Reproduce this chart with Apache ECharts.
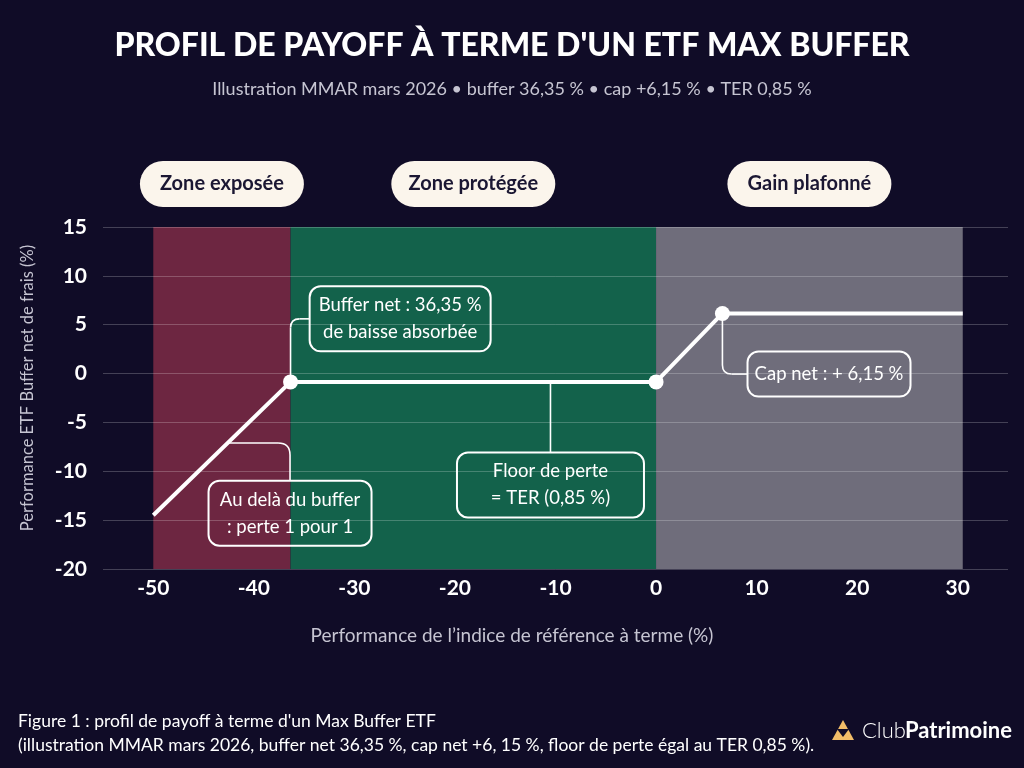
<!DOCTYPE html>
<html>
<head>
<meta charset="utf-8">
<script src="https://cdn.jsdelivr.net/npm/echarts@6/dist/echarts.min.js"></script>
<style>
	html, body { margin: 0; padding: 0; background: #100c27; }
	#main { width: 1024px; height: 768px; }
</style>
</head>
<body>
<div id="main"></div>
<script>
// performance de l'indice (x) et de l'ETF net de frais (y) aux points de rupture
var refPerf = [-50, -36.35, 0, 6.6, 30.5];
var etfPerf = [-14.5, -0.85, -0.85, 6.15, 6.15];
var markedIdx = [1, 2, 3];

// zones de fond
var zoneLabels = ['Zone exposée', 'Zone protégée', 'Gain plafonné'];
var zoneStart = [-50, -36.35, 0];
var zoneEnd = [-36.35, 0, 30.5];
var zoneColors = ['#6d2641', '#13624b', '#6f6d7b'];

var xLabelMin = -50, xLabelMax = 30;

var chart = echarts.init(document.getElementById('main'));

var linePoints = [];
for (var i = 0; i < refPerf.length; i++) {
	linePoints.push([refPerf[i], etfPerf[i]]);
}
var dotPoints = [];
for (var i = 0; i < markedIdx.length; i++) {
	dotPoints.push([refPerf[markedIdx[i]], etfPerf[markedIdx[i]]]);
}
var areas = [];
for (var i = 0; i < zoneLabels.length; i++) {
	areas.push([
		{ xAxis: zoneStart[i], itemStyle: { color: zoneColors[i] } },
		{ xAxis: zoneEnd[i] }
	]);
}

var option = {
	backgroundColor: '#100c27',
	animation: false,
	textStyle: { fontFamily: 'Lato' },
	title: [
		{
			text: "PROFIL DE PAYOFF À TERME D'UN ETF MAX BUFFER",
			left: 'center',
			top: 25,
			textStyle: { color: '#ffffff', fontSize: 32, fontWeight: 900, fontFamily: 'Lato' }
		},
		{
			text: 'Illustration MMAR mars 2026 • buffer 36,35 % • cap +6,15 % • TER 0,85 %',
			left: 'center',
			top: 75,
			textStyle: { color: '#c6c5d2', fontSize: 18, fontWeight: 'normal', fontFamily: 'Lato' }
		}
	],
	grid: { left: 103, right: 16, top: 227, bottom: 199, outerBoundsMode: 'none' },
	xAxis: {
		type: 'value',
		min: -55,
		max: 35,
		interval: 5,
		axisLine: { show: false },
		axisTick: { show: false },
		splitLine: { show: false },
		axisLabel: {
			color: '#ffffff',
			fontSize: 21,
			fontWeight: 'bold',
			margin: 9,
			formatter: function (v) {
				return (v % 10 === 0 && v >= xLabelMin && v <= xLabelMax) ? String(v) : '';
			}
		}
	},
	yAxis: {
		type: 'value',
		min: -20,
		max: 15,
		interval: 5,
		z: 2,
		axisLine: { show: false },
		axisTick: { show: false },
		splitLine: { lineStyle: { color: 'rgba(255,255,255,0.22)', width: 1 } },
		axisLabel: { color: '#ffffff', fontSize: 21, fontWeight: 'bold', margin: 16 }
	},
	series: [
		{
			type: 'line',
			name: 'zones',
			data: [],
			z: 1,
			silent: true,
			markArea: { silent: true, data: areas }
		},
		{
			type: 'line',
			name: 'payoff',
			data: linePoints,
			symbol: 'none',
			z: 3,
			lineStyle: { color: '#ffffff', width: 4 }
		},
		{
			type: 'scatter',
			name: 'points',
			data: dotPoints,
			symbolSize: 15,
			z: 4,
			itemStyle: { color: '#ffffff', opacity: 1 }
		}
	]
};
chart.setOption(option);

// annotations (placées en coordonnées de données)
var callouts = [
	{ text: 'Buffer net : 36,35 %\nde baisse absorbée', anchor: [-36.35, -0.85], box: [-25.45, 5.6], w: 181, h: 65, route: 'vh' },
	{ text: 'Cap net : + 6,15 %', anchor: [6.6, 6.15], box: [17.2, -0.05], w: 163, h: 45, route: 'vh' },
	{ text: 'Au delà du buffer\n: perte 1 pour 1', anchor: [-42.6, -7.1], box: [-36.4, -14.3], w: 163, h: 65, route: 'hv' },
	{ text: 'Floor de perte\n= TER (0,85 %)', anchor: [-10.5, -0.85], box: [-10.5, -11.4], w: 187, h: 65, route: 'v' }
];

function px(p) {
	return chart.convertToPixel({ gridIndex: 0 }, p);
}

var graphics = [];

function seg(x1, y1, x2, y2) {
	graphics.push({
		type: 'line',
		shape: { x1: x1, y1: y1, x2: x2, y2: y2 },
		style: { stroke: '#ffffff', lineWidth: 1.6 },
		z: 9
	});
}
function corner(x1, y1, cx, cy, x2, y2) {
	graphics.push({
		type: 'bezierCurve',
		shape: { x1: x1, y1: y1, cpx1: cx, cpy1: cy, x2: x2, y2: y2 },
		style: { stroke: '#ffffff', lineWidth: 1.6, fill: 'none' },
		z: 9
	});
}

function buildCallout(c) {
	var a = px(c.anchor);
	var b = px(c.box);
	var boxLeft = b[0] - c.w / 2;
	var boxTop = b[1] - c.h / 2;
	var r;
	if (c.route === 'vh') {
		r = 9;
		var dir = b[1] > a[1] ? 1 : -1;
		seg(a[0], a[1], a[0], b[1] - dir * r);
		corner(a[0], b[1] - dir * r, a[0], b[1], a[0] + r, b[1]);
		seg(a[0] + r, b[1], boxLeft, b[1]);
	} else if (c.route === 'hv') {
		r = 12;
		seg(a[0], a[1], b[0] - r, a[1]);
		corner(b[0] - r, a[1], b[0], a[1], b[0], a[1] + r);
		seg(b[0], a[1] + r, b[0], boxTop);
	} else {
		seg(a[0], a[1], a[0], boxTop);
	}
	graphics.push({
		type: 'rect',
		shape: { x: boxLeft, y: boxTop, width: c.w, height: c.h, r: 11 },
		style: { fill: 'none', stroke: '#ffffff', lineWidth: 2 },
		z: 10
	});
	graphics.push({
		type: 'text',
		x: b[0],
		y: b[1],
		style: {
			text: c.text,
			align: 'center',
			verticalAlign: 'middle',
			fill: '#ffffff',
			font: '18.5px Lato',
			lineHeight: 27
		},
		z: 11
	});
}

// pastilles des zones
for (var i = 0; i < zoneLabels.length; i++) {
	var zx = px([(zoneStart[i] + zoneEnd[i]) / 2, 0])[0];
	graphics.push({
		type: 'rect',
		shape: { x: zx - 82, y: 161, width: 164, height: 46, r: 23 },
		style: { fill: '#fbf5ec' },
		z: 10
	});
	graphics.push({
		type: 'text',
		x: zx,
		y: 184,
		style: {
			text: zoneLabels[i],
			align: 'center',
			verticalAlign: 'middle',
			fill: '#1b1733',
			font: 'bold 20px Lato'
		},
		z: 11
	});
}

// bulles et traits de rappel
for (var i = 0; i < callouts.length; i++) {
	buildCallout(callouts[i]);
}

// titres des axes
graphics.push({
	type: 'text',
	x: 28,
	y: 388,
	rotation: Math.PI / 2,
	style: {
		text: 'Performance ETF Buffer net de frais (%)',
		align: 'center',
		verticalAlign: 'middle',
		fill: '#c6c5d2',
		font: '16.5px Lato'
	}
});
graphics.push({
	type: 'text',
	x: 512,
	y: 636,
	style: {
		text: "Performance de l’indice de référence à terme (%)",
		align: 'center',
		verticalAlign: 'middle',
		fill: '#c6c5d2',
		font: '19px Lato'
	}
});

// légende de la figure
graphics.push({
	type: 'text',
	x: 18,
	y: 721,
	style: {
		text: "Figure 1 : profil de payoff à terme d'un Max Buffer ETF",
		verticalAlign: 'middle',
		fill: '#ffffff',
		font: '17.5px Lato'
	}
});
graphics.push({
	type: 'text',
	x: 18,
	y: 745,
	style: {
		text: '(illustration MMAR mars 2026, buffer net 36,35 %, cap net +6, 15 %, floor de perte égal au TER 0,85 %).',
		verticalAlign: 'middle',
		fill: '#ffffff',
		font: '17.5px Lato'
	}
});

// logo
graphics.push({
	type: 'polygon',
	shape: { points: [[843, 720], [854, 740], [832, 740]] },
	style: { fill: '#f2bd68' }
});
graphics.push({
	type: 'polygon',
	shape: { points: [[837, 729], [849, 729], [843, 737]] },
	style: { fill: '#100c27' }
});
graphics.push({
	type: 'text',
	x: 862,
	y: 731,
	style: {
		text: 'Club',
		verticalAlign: 'middle',
		fill: '#ffffff',
		font: '300 22px Lato'
	}
});
graphics.push({
	type: 'text',
	x: 1012,
	y: 731,
	style: {
		text: 'Patrimoine',
		align: 'right',
		verticalAlign: 'middle',
		fill: '#ffffff',
		font: 'bold 22px Lato'
	}
});

chart.setOption({ graphic: graphics });
</script>
</body>
</html>
